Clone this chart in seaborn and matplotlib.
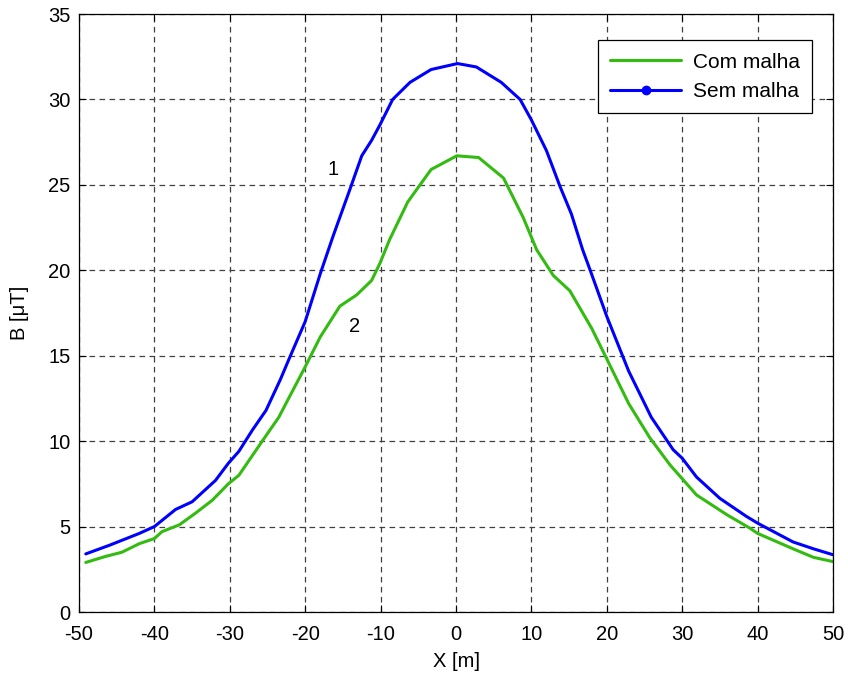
import numpy as np
import pandas as pd
import matplotlib
matplotlib.use("Agg")
import matplotlib.pyplot as plt
import seaborn as sns
from matplotlib.lines import Line2D

# ---- data ----
x_sem = [-49.1, -46, -42, -40, -37.2, -35, -31.9, -30.2, -28.8, -27, -25.2, -23.3,
         -22.2, -20, -18, -16.3, -14.1, -12.5, -11.2, -10.1, -8.4, -6.1, -3.3, 0.2,
         2.7, 6.0, 8.5, 10, 12, 13.8, 15.3, 16.8, 17.8, 20, 22.9, 25.9, 28.8, 30,
         31.9, 35, 38.5, 40, 44.7, 47.4, 50]
b_sem = [3.4, 3.9, 4.6, 5.0, 6.0, 6.45, 7.7, 8.7, 9.4, 10.65, 11.8, 13.6,
         14.75, 17.0, 19.8, 22.0, 24.7, 26.7, 27.6, 28.5, 30.0, 31.0, 31.75, 32.1,
         31.9, 31.0, 30.0, 28.8, 27.0, 24.9, 23.3, 21.2, 20.0, 17.3, 14.1, 11.4, 9.5, 9.0,
         7.9, 6.65, 5.6, 5.2, 4.1, 3.7, 3.35]

x_com = [-49.1, -46.5, -44.3, -42, -40, -39, -36.7, -34.5, -32.3, -30.2, -28.8, -25.7,
         -23.5, -22.2, -20, -18, -15.4, -13.2, -11.2, -10.1, -8.8, -6.4, -3.3, 0.1,
         3.0, 6.3, 8.9, 10.7, 12.9, 15.1, 18, 19.9, 22.9, 25.7, 28.4, 30,
         31.9, 35.9, 39, 40, 44.7, 47.4, 50]
b_com = [2.9, 3.25, 3.5, 4.0, 4.3, 4.7, 5.1, 5.8, 6.55, 7.5, 8.0, 10.0,
         11.4, 12.5, 14.35, 16.1, 17.9, 18.55, 19.4, 20.4, 21.8, 24.0, 25.9, 26.7,
         26.6, 25.4, 23.1, 21.2, 19.7, 18.8, 16.6, 14.9, 12.2, 10.2, 8.6, 7.8,
         6.85, 5.7, 4.9, 4.6, 3.7, 3.2, 2.95]

series_names = ["Com malha", "Sem malha"]
colors = {"Com malha": "#33bb11", "Sem malha": "#0000ff"}
x_ticks = [-50, -40, -30, -20, -10, 0, 10, 20, 30, 40, 50]
y_ticks = [0, 5, 10, 15, 20, 25, 30, 35]

df = pd.concat([
    pd.DataFrame({"X": x_com, "B": b_com, "serie": "Com malha"}),
    pd.DataFrame({"X": x_sem, "B": b_sem, "serie": "Sem malha"}),
])

sns.set_style("white")
plt.rcParams["font.family"] = ["Liberation Sans", "DejaVu Sans"]
plt.rcParams["axes.unicode_minus"] = False
plt.rcParams["text.color"] = "black"
plt.rcParams["axes.labelcolor"] = "black"
plt.rcParams["xtick.color"] = "black"
plt.rcParams["ytick.color"] = "black"

fig = plt.figure(figsize=(8.48, 6.75), dpi=100)
ax = fig.add_axes([79/848, 63/675, (833-79)/848, (612-14)/675])

sns.lineplot(data=df, x="X", y="B", hue="serie", palette=colors,
             hue_order=series_names, linewidth=2.2, ax=ax, legend=False,
             sort=False, estimator=None)

ax.set_xlim(-50, 50)
ax.set_ylim(0, 35)
ax.set_xticks(x_ticks)
ax.set_yticks(y_ticks)
ax.tick_params(direction="in", length=5, width=0.8, labelsize=14.5,
               top=True, right=True, bottom=True, left=True,
               color="black", labelcolor="black")
ax.tick_params(axis="x", pad=9)
ax.tick_params(axis="y", pad=6)
ax.grid(True, color="0.25", linestyle=(0, (4.5, 3.5)), linewidth=0.9)
for s in ax.spines.values():
    s.set_visible(True)
    s.set_color("black")
    s.set_linewidth(0.9)

ax.set_xlabel("X [m]", fontsize=14.5, labelpad=6, color="black")
ax.set_ylabel("B [μT]", fontsize=14.5, labelpad=14, color="black")

ax.text(-16.3, 25.9, "1", fontsize=14.5, ha="center", va="center", color="black")
ax.text(-13.5, 16.7, "2", fontsize=14.5, ha="center", va="center", color="black")

handles = [Line2D([], [], color=colors["Com malha"], lw=2.2),
           Line2D([], [], color=colors["Sem malha"], lw=2.2, marker="o", markersize=6)]
leg = ax.legend(handles, series_names, loc="upper right", fontsize=15,
                frameon=True, fancybox=False, framealpha=1, edgecolor="black",
                borderaxespad=0.0, handlelength=3.4, borderpad=0.6,
                labelspacing=0.5, handletextpad=0.55)
leg.set_bbox_to_anchor(((812-79)/754, (612-40)/598), transform=ax.transAxes)
leg.get_frame().set_linewidth(0.9)
for t in leg.get_texts():
    t.set_color("black")

fig.savefig("out.png", dpi=100)
